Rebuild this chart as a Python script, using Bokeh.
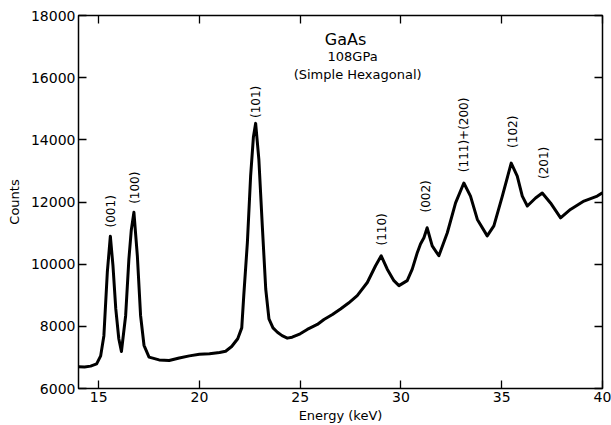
import math
from bokeh.plotting import figure
from bokeh.models import LinearAxis, Label, FixedTicker, Range1d
from bokeh.embed import file_html
from bokeh.resources import INLINE

# Spectrum (energy in keV, counts)
energy = [14.0, 14.3, 14.6, 14.9, 15.1, 15.26, 15.43, 15.58, 15.71, 15.85, 16.0, 16.13,
          16.34, 16.5, 16.62, 16.75, 16.92, 17.08, 17.25, 17.5, 18.0, 18.5, 19.0, 19.5,
          20.0, 20.5, 21.0, 21.3, 21.6, 21.9, 22.1, 22.2, 22.38, 22.54, 22.68, 22.79,
          22.95, 23.12, 23.29, 23.45, 23.65, 23.87, 24.1, 24.36, 24.6, 25.0, 25.35, 25.85,
          26.18, 26.6, 27.0, 27.4, 27.83, 28.33, 28.74, 29.02, 29.32, 29.65, 29.9, 30.31,
          30.56, 30.81, 30.97, 31.14, 31.3, 31.55, 31.88, 32.3, 32.71, 33.12, 33.45, 33.79,
          34.28, 34.61, 35.03, 35.47, 35.77, 36.02, 36.27, 36.68, 37.01, 37.42, 37.92,
          38.41, 39.08, 39.74, 40.0]
counts = [6700, 6690, 6720, 6790, 7050, 7700, 9740, 10900, 9950, 8560, 7600, 7190,
          8350, 10160, 11100, 11670, 10270, 8350, 7390, 7010, 6920, 6900, 6980, 7050,
          7100, 7120, 7160, 7200, 7350, 7600, 7950, 8990, 10700, 12830, 14100, 14530,
          13360, 11230, 9200, 8240, 7950, 7810, 7700, 7620, 7650, 7760, 7900, 8060,
          8220, 8380, 8560, 8750, 8990, 9410, 9950, 10270, 9840, 9470, 9310, 9470,
          9840, 10370, 10650, 10850, 11170, 10590, 10270, 11010, 11970, 12610, 12190, 11440,
          10910, 11230, 12190, 13250, 12830, 12190, 11870, 12130, 12290, 11970, 11490,
          11760, 12030, 12190, 12300]

x_ticks = [15, 20, 25, 30, 35, 40]
y_ticks = [6000, 8000, 10000, 12000, 14000, 16000, 18000]

peak_labels = ["(001)", "(100)", "(101)", "(110)", "(002)", "(111)+(200)", "(102)", "(201)"]
peak_energy = [15.6, 16.81, 22.79, 29.04, 31.22, 33.11, 35.55, 37.09]
label_counts = [11700, 12460, 15220, 11120, 12180, 14160, 14260, 13260]

title_lines = ["GaAs", "108GPa", "(Simple Hexagonal)"]
title_x = [27.25, 27.6, 27.85]
title_y = [17230, 16690, 16110]
title_sizes = ["16px", "13px", "13px"]

FONT = "DejaVu Sans"

p = figure(width=611, height=425, x_range=Range1d(14, 40), y_range=Range1d(6000, 18000),
           output_backend="svg", toolbar_location=None,
           min_border_left=78, min_border_right=9, min_border_top=15, min_border_bottom=35)
p.grid.visible = False
p.outline_line_color = "black"
p.outline_line_width = 1.5
p.background_fill_color = "white"
p.border_fill_color = "white"

p.line(energy, counts, line_color="black", line_width=3, line_join="round")

for ax in (p.xaxis[0], p.yaxis[0]):
    ax.axis_line_color = None
    ax.major_tick_in = 8
    ax.major_tick_out = 0
    ax.major_tick_line_width = 1.3
    ax.minor_tick_line_color = None
    ax.major_label_text_font = FONT
    ax.major_label_text_font_size = "14px"
    ax.major_label_text_color = "black"
    ax.axis_label_text_font = FONT
    ax.axis_label_text_font_size = "13px"
    ax.axis_label_text_font_style = "normal"
    ax.axis_label_text_color = "black"

p.xaxis[0].ticker = FixedTicker(ticks=x_ticks)
p.yaxis[0].ticker = FixedTicker(ticks=y_ticks)
p.xaxis[0].axis_label = "Energy (keV)"
p.yaxis[0].axis_label = "Counts"
p.xaxis[0].major_label_standoff = 3
p.xaxis[0].axis_label_standoff = 3
p.yaxis[0].major_label_standoff = 3
p.yaxis[0].axis_label_standoff = 6

top = LinearAxis(ticker=FixedTicker(ticks=x_ticks), major_label_text_font_size="1px",
                 major_label_text_color=None, major_tick_in=8, major_tick_out=0,
                 major_tick_line_width=1.3, minor_tick_line_color=None,
                 axis_line_color=None, major_label_standoff=0)
right = LinearAxis(ticker=FixedTicker(ticks=y_ticks), major_label_text_font_size="1px",
                   major_label_text_color=None, major_tick_in=8, major_tick_out=0,
                   major_tick_line_width=1.3, minor_tick_line_color=None,
                   axis_line_color=None, major_label_standoff=0)
p.add_layout(top, "above")
p.add_layout(right, "right")

for t, x, y, s in zip(title_lines, title_x, title_y, title_sizes):
    p.add_layout(Label(x=x, y=y, text=t, text_font=FONT, text_font_size=s,
                       text_align="center", text_baseline="middle", text_color="black"))

for t, x, y in zip(peak_labels, peak_energy, label_counts):
    p.add_layout(Label(x=x, y=y, text=t, angle=math.pi / 2, text_font=FONT,
                       text_font_size="12px", text_align="center", text_baseline="middle",
                       text_color="black"))

open("out.html", "w").write(file_html(p, INLINE))
